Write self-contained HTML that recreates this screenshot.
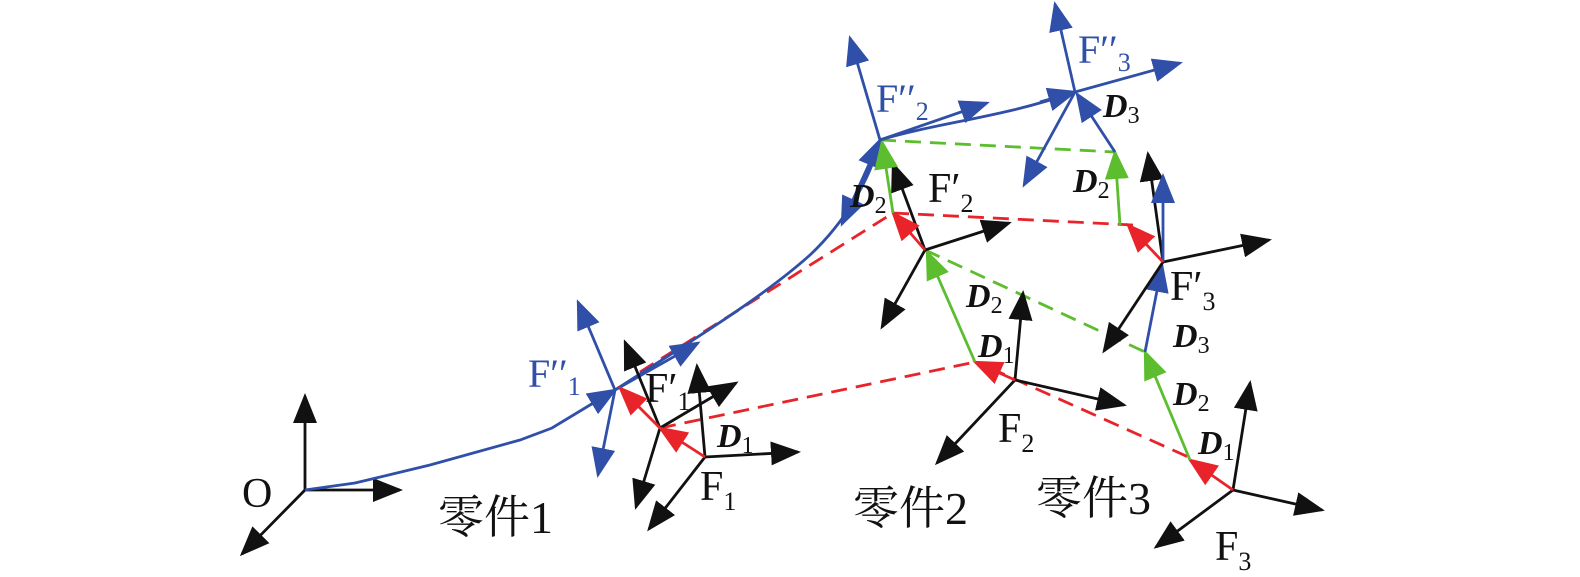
<!DOCTYPE html>
<html><head><meta charset="utf-8"><style>
html,body{margin:0;padding:0;background:#fff}
svg{display:block}
text{font-family:"Liberation Serif","Noto Serif CJK SC",serif}
.k{stroke:#111;stroke-width:2.8;fill:none}
.b{stroke:#2f4fa8;stroke-width:2.8;fill:none}
.r{stroke:#e8232a;stroke-width:2.8;fill:none}
.g{stroke:#5cbd2e;stroke-width:2.8;fill:none}
.d{stroke-dasharray:16 9}
</style></head><body>
<svg width="1580" height="577" viewBox="0 0 1580 577" xmlns="http://www.w3.org/2000/svg">
<defs>
<marker id="mk" markerWidth="30" markerHeight="24" refX="27" refY="12" orient="auto" markerUnits="userSpaceOnUse"><path d="M0,0 L30,12 L0,24 z" fill="#111"/></marker>
<marker id="mb" markerWidth="30" markerHeight="24" refX="27" refY="12" orient="auto" markerUnits="userSpaceOnUse"><path d="M0,0 L30,12 L0,24 z" fill="#2f4fa8"/></marker>
<marker id="mr" markerWidth="30" markerHeight="24" refX="27" refY="12" orient="auto" markerUnits="userSpaceOnUse"><path d="M0,0 L30,12 L0,24 z" fill="#e8232a"/></marker>
<marker id="mg" markerWidth="30" markerHeight="24" refX="27" refY="12" orient="auto" markerUnits="userSpaceOnUse"><path d="M0,0 L30,12 L0,24 z" fill="#5cbd2e"/></marker>
</defs>

<!-- dashed lines -->
<line class="r d" x1="660" y1="428" x2="975" y2="362"/>
<line class="r d" x1="640" y1="372" x2="893" y2="213"/>
<line class="r d" x1="893" y1="213" x2="1133" y2="225"/>
<line class="r d" x1="990" y1="368" x2="1195" y2="460"/>
<line class="g d" x1="925" y1="250" x2="1145" y2="352"/>
<line class="g d" x1="880" y1="140" x2="1115" y2="152"/>

<!-- O -->
<line class="k" x1="305" y1="490" x2="305" y2="396" marker-end="url(#mk)"/>
<line class="k" x1="305" y1="490" x2="400" y2="490" marker-end="url(#mk)"/>
<line class="k" x1="305" y1="490" x2="242" y2="554" marker-end="url(#mk)"/>

<!-- blue curve -->
<path class="b" d="M305,490 L355,483 L430,465 L520,440 L552,428 L590,405 L615,390 C680,348 760,300 810,255 C845,222 870,180 880,140"/>
<line class="b" x1="590" y1="405" x2="615" y2="390" marker-end="url(#mb)"/>
<line class="b" x1="860" y1="188" x2="880" y2="140" marker-end="url(#mb)"/>
<path class="b" d="M880,140 C940,122 1000,118 1075,92"/>
<line class="b" x1="1040" y1="102" x2="1075" y2="92" marker-end="url(#mb)"/>

<!-- F''1 -->
<line class="b" x1="615" y1="390" x2="578" y2="302" marker-end="url(#mb)"/>
<line class="b" x1="615" y1="390" x2="598" y2="475" marker-end="url(#mb)"/>
<line class="b" x1="615" y1="390" x2="698" y2="343" marker-end="url(#mb)"/>

<!-- F'1 -->
<line class="k" x1="660" y1="428" x2="625" y2="342" marker-end="url(#mk)"/>
<line class="k" x1="660" y1="428" x2="736" y2="383" marker-end="url(#mk)"/>
<line class="k" x1="660" y1="428" x2="636" y2="507" marker-end="url(#mk)"/>
<!-- F1 -->
<line class="k" x1="705" y1="457" x2="697" y2="366" marker-end="url(#mk)"/>
<line class="k" x1="705" y1="457" x2="798" y2="452" marker-end="url(#mk)"/>
<line class="k" x1="705" y1="457" x2="649" y2="529" marker-end="url(#mk)"/>
<line class="r" x1="705" y1="457" x2="660" y2="428" marker-end="url(#mr)"/>
<line class="r" x1="660" y1="428" x2="620" y2="388" marker-end="url(#mr)"/>

<!-- F2 -->
<line class="k" x1="1015" y1="380" x2="1023" y2="293" marker-end="url(#mk)"/>
<line class="k" x1="1015" y1="380" x2="1124" y2="405" marker-end="url(#mk)"/>
<line class="k" x1="1015" y1="380" x2="937" y2="463" marker-end="url(#mk)"/>
<line class="r" x1="1015" y1="380" x2="975" y2="362" marker-end="url(#mr)"/>
<line class="g" x1="975" y1="362" x2="927" y2="252" marker-end="url(#mg)"/>
<!-- F'2 -->
<line class="k" x1="925" y1="250" x2="893" y2="164" marker-end="url(#mk)"/>
<line class="k" x1="925" y1="250" x2="1009" y2="223" marker-end="url(#mk)"/>
<line class="k" x1="925" y1="250" x2="882" y2="327" marker-end="url(#mk)"/>
<line class="r" x1="925" y1="250" x2="893" y2="213" marker-end="url(#mr)"/>
<line class="g" x1="893" y1="213" x2="882" y2="142" marker-end="url(#mg)"/>
<!-- F''2 -->
<line class="b" x1="880" y1="140" x2="850" y2="38" marker-end="url(#mb)"/>
<line class="b" x1="880" y1="140" x2="987" y2="103" marker-end="url(#mb)"/>
<line class="b" x1="880" y1="140" x2="842" y2="224" marker-end="url(#mb)"/>

<!-- F3 -->
<line class="k" x1="1233" y1="490" x2="1250" y2="383" marker-end="url(#mk)"/>
<line class="k" x1="1233" y1="490" x2="1322" y2="510" marker-end="url(#mk)"/>
<line class="k" x1="1233" y1="490" x2="1156" y2="547" marker-end="url(#mk)"/>
<line class="r" x1="1233" y1="490" x2="1190" y2="460" marker-end="url(#mr)"/>
<line class="g" x1="1190" y1="460" x2="1145" y2="352" marker-end="url(#mg)"/>
<line class="b" x1="1145" y1="352" x2="1162" y2="265" marker-end="url(#mb)"/>
<!-- F'3 -->
<line class="k" x1="1163" y1="262" x2="1148" y2="154" marker-end="url(#mk)"/>
<line class="k" x1="1163" y1="262" x2="1269" y2="240" marker-end="url(#mk)"/>
<line class="k" x1="1163" y1="262" x2="1104" y2="351" marker-end="url(#mk)"/>
<line class="b" x1="1163" y1="262" x2="1163" y2="176" marker-end="url(#mb)"/>
<line class="r" x1="1163" y1="262" x2="1128" y2="225" marker-end="url(#mr)"/>
<line class="g" x1="1120" y1="225" x2="1115" y2="152" marker-end="url(#mg)"/>
<line class="b" x1="1115" y1="152" x2="1077" y2="94" marker-end="url(#mb)"/>
<!-- F''3 -->
<line class="b" x1="1075" y1="92" x2="1055" y2="4" marker-end="url(#mb)"/>
<line class="b" x1="1075" y1="92" x2="1180" y2="63" marker-end="url(#mb)"/>
<line class="b" x1="1075" y1="92" x2="1024" y2="185" marker-end="url(#mb)"/>

<!-- labels -->
<g font-size="42" fill="#111">
<text x="242" y="507">O</text>
<text x="438" y="533" font-size="46">零件1</text>
<text x="853" y="524" font-size="46">零件2</text>
<text x="1036" y="514" font-size="46">零件3</text>
<text x="700" y="500">F<tspan font-size="26" dy="10">1</tspan></text>
<text x="645" y="402">F′<tspan font-size="26" dy="8">1</tspan></text>
<text x="998" y="442">F<tspan font-size="26" dy="10">2</tspan></text>
<text x="928" y="202">F′<tspan font-size="26" dy="10">2</tspan></text>
<text x="1215" y="560">F<tspan font-size="26" dy="10">3</tspan></text>
<text x="1170" y="300">F′<tspan font-size="26" dy="10">3</tspan></text>
</g>
<g font-size="40" fill="#2f4fa8">
<text x="528" y="387">F′′<tspan font-size="26" dy="8">1</tspan></text>
<text x="876" y="112">F′′<tspan font-size="26" dy="8">2</tspan></text>
<text x="1078" y="63">F′′<tspan font-size="26" dy="8">3</tspan></text>
</g>
<g font-size="34" font-weight="bold" font-style="italic" fill="#111">
<text x="717" y="447">D<tspan font-size="24" font-weight="normal" font-style="normal" dy="6">1</tspan></text>
<text x="850" y="207">D<tspan font-size="24" font-weight="normal" font-style="normal" dy="6">2</tspan></text>
<text x="1073" y="192">D<tspan font-size="24" font-weight="normal" font-style="normal" dy="6">2</tspan></text>
<text x="1103" y="117">D<tspan font-size="24" font-weight="normal" font-style="normal" dy="6">3</tspan></text>
<text x="966" y="307">D<tspan font-size="24" font-weight="normal" font-style="normal" dy="6">2</tspan></text>
<text x="978" y="357">D<tspan font-size="24" font-weight="normal" font-style="normal" dy="6">1</tspan></text>
<text x="1173" y="347">D<tspan font-size="24" font-weight="normal" font-style="normal" dy="6">3</tspan></text>
<text x="1173" y="405">D<tspan font-size="24" font-weight="normal" font-style="normal" dy="6">2</tspan></text>
<text x="1198" y="454">D<tspan font-size="24" font-weight="normal" font-style="normal" dy="6">1</tspan></text>
</g>
</svg>
</body></html>
